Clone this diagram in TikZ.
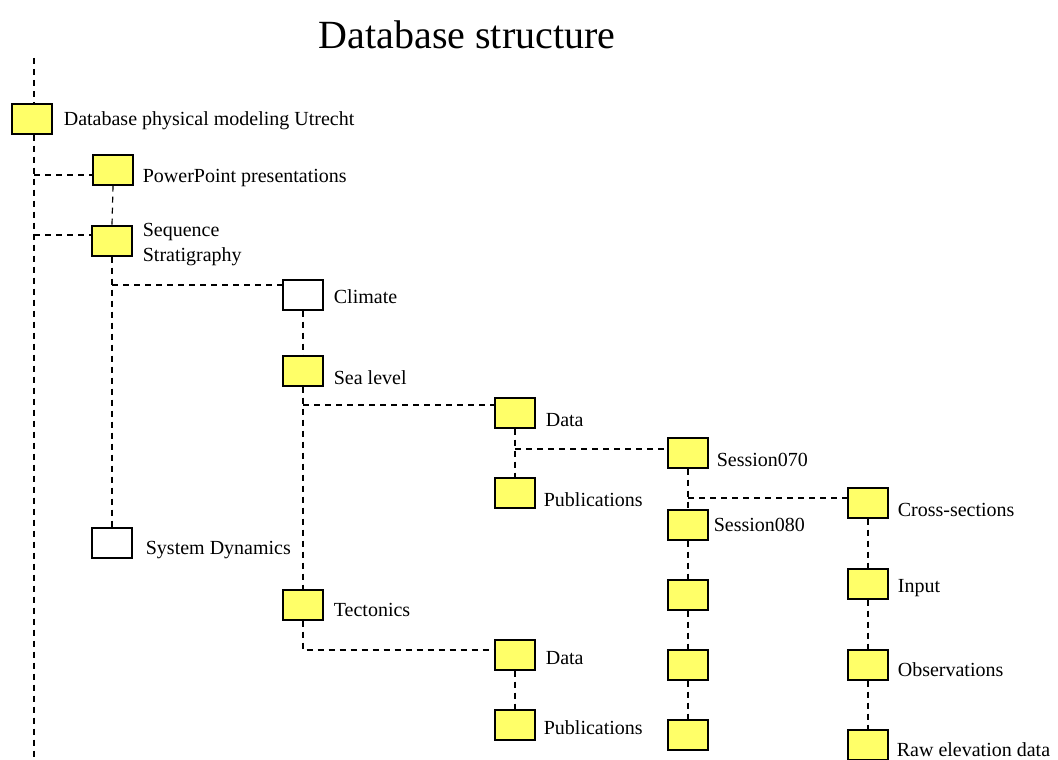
\documentclass[tikz,border=0pt]{standalone}
\usepackage{fontspec}
\setmainfont{Liberation Serif}
\usetikzlibrary{positioning}
\definecolor{boxyellow}{RGB}{255,255,104}
\tikzset{
  box/.style={draw, fill=boxyellow, line width=1.3pt, minimum width=40pt, minimum height=30pt, inner sep=0pt},
  openbox/.style={box, fill=white},
  lbl/.style={anchor=west, inner sep=0pt, font=\fontsize{20}{25}\selectfont},
  link/.style={line width=1.2pt, dash pattern=on 6pt off 5pt}
}
\begin{document}
\begin{tikzpicture}[x=1pt,y=-1pt]
\useasboundingbox (0,0) rectangle (1058,760);
\node[inner sep=0pt, font=\fontsize{40}{46}\selectfont] (title) at (467,35) {Database structure};
% boxes
\node[box] (root) at (32,119) {};
\node[box] (pp) at (113,170) {};
\node[box] (seq) at (112,241) {};
\node[openbox] (sysdyn) at (112,543) {};
\node[openbox] (climate) at (303,295) {};
\node[box] (sealevel) at (303,371) {};
\node[box] (tectonics) at (303,605) {};
\node[box] (data1) at (515,413) {};
\node[box] (pub1) at (515,493) {};
\node[box] (data2) at (515,655) {};
\node[box] (pub2) at (515,725) {};
\node[box] (s070) at (688,453) {};
\node[box] (s080) at (688,525) {};
\node[box] (s3) at (688,595) {};
\node[box] (s4) at (688,665) {};
\node[box] (s5) at (688,735) {};
\node[box] (cross) at (868,503) {};
\node[box] (input) at (868,584) {};
\node[box] (obs) at (868,665) {};
\node[box] (raw) at (868,745) {};
% labels
\node[lbl, right=11pt of root, yshift=-2pt] (rootlbl) {Database physical modeling Utrecht};
\node[lbl, right=9pt of pp, yshift=-8pt] (pplbl) {PowerPoint presentations};
\node[lbl, right=10pt of seq, yshift=-4pt, align=left] (seqlbl) {Sequence\\Stratigraphy};
\node[lbl, right=13pt of sysdyn, yshift=-7pt] (sysdynlbl) {System Dynamics};
\node[lbl, right=10pt of climate, yshift=-2pt] (climatelbl) {Climate};
\node[lbl, right=10pt of sealevel, yshift=-7pt] (sealevellbl) {Sea level};
\node[lbl, right=10pt of tectonics, yshift=-5pt] (tectonicslbl) {Tectonics};
\node[lbl, right=10pt of data1, yshift=-7pt] (data1lbl) {Data};
\node[lbl, right=8pt of pub1, yshift=-7pt] (pub1lbl) {Publications};
\node[lbl, right=10pt of data2, yshift=-3pt] (data2lbl) {Data};
\node[lbl, right=8pt of pub2, yshift=-3pt] (pub2lbl) {Publications};
\node[lbl, right=8pt of s070, yshift=-7pt] (s070lbl) {Session070};
\node[lbl, right=5pt of s080] (s080lbl) {Session080};
\node[lbl, right=9pt of cross, yshift=-7pt] (crosslbl) {Cross-sections};
\node[lbl, right=9pt of input, yshift=-4pt] (inputlbl) {Input};
\node[lbl, right=9pt of obs, yshift=-5pt] (obslbl) {Observations};
\node[lbl, right=8pt of raw, yshift=-5pt] (rawlbl) {Raw elevation data};
% connectors
\coordinate (spinetop) at (34,58);
\coordinate (spinebot) at (34,760);
\draw[link] (spinetop) -- (spinetop |- root.north);
\draw[link] (spinebot |- root.south) -- (spinebot);
\draw[link] (spinebot |- pp.west) ++(0,5) -- ([yshift=-5pt]pp.west);
\draw[link] (spinebot |- seq.west) ++(0,-6) -- ([yshift=6pt]seq.west);
\draw[link] (pp.south) -- (seq.north);
\draw[link] (seq.south) -- (sysdyn.north);
\draw[link] (seq.south |- climate.west) ++(0,-10) -- ([yshift=10pt]climate.west);
\draw[link] (climate.south) -- (sealevel.north);
\draw[link] (sealevel.south) -- (tectonics.north);
\draw[link] (sealevel.south |- data1.west) ++(0,-8) -- ([yshift=8pt]data1.west);
\draw[link] (tectonics.south) |- ([yshift=5pt]data2.west);
\draw[link] (data1.south) -- (pub1.north);
\draw[link] (data2.south) -- (pub2.north);
\draw[link] (data1.south |- s070.west) ++(0,-4) -- ([yshift=4pt]s070.west);
\draw[link] (s070.south) -- (s080.north);
\draw[link] (s070.south |- cross.west) ++(0,-5) -- ([yshift=5pt]cross.west);
\draw[link] (s080.south) -- (s3.north);
\draw[link] (s3.south) -- (s4.north);
\draw[link] (s4.south) -- (s5.north);
\draw[link] (cross.south) -- (input.north);
\draw[link] (input.south) -- (obs.north);
\draw[link] (obs.south) -- (raw.north);
\end{tikzpicture}
\end{document}
